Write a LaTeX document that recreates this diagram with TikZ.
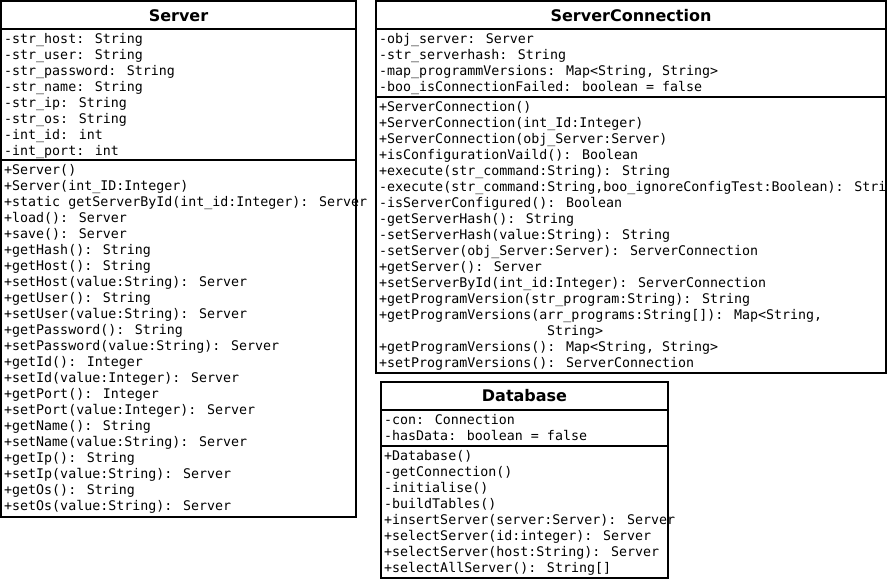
\documentclass[tikz,border=0pt]{standalone}
\usepackage{fontspec}
\newfontfamily\umlmono{DejaVu Sans Mono}
\newfontfamily\umlsans{DejaVu Sans}
\begin{document}
\begin{tikzpicture}[x=1pt,y=-1pt,
  box/.style={draw=black,line width=2pt,fill=white},
  sep/.style={draw=black,line width=2pt},
  member/.style={inner sep=0pt,anchor=base west,font=\umlmono\fontsize{13.3}{16}\selectfont},
  title/.style={inner sep=0pt,anchor=base,font=\umlsans\bfseries\fontsize{16}{19}\selectfont}]
\useasboundingbox (0,0) rectangle (887,579);
\clip (0,0) rectangle (887,579);
% ---------- Server ----------
\draw[box] (1,1) rectangle (356,517);
\draw[sep] (1,29) -- (356,29);
\draw[sep] (1,160) -- (356,160);
\node[title] (servertitle) at (178.5,21) {Server};
\foreach \t [count=\i] in {
  -str\_host: String,
  -str\_user: String,
  -str\_password: String,
  -str\_name: String,
  -str\_ip: String,
  -str\_os: String,
  -int\_id: int,
  -int\_port: int}
  {\node[member] (sa\i) at (4,{43.5+16*(\i-1)}) {\t};}
\foreach \t [count=\i] in {
  +Server(),
  +Server(int\_ID:Integer),
  +static getServerById(int\_id:Integer): Server,
  +load(): Server,
  +save(): Server,
  +getHash(): String,
  +getHost(): String,
  +setHost(value:String): Server,
  +getUser(): String,
  +setUser(value:String): Server,
  +getPassword(): String,
  +setPassword(value:String): Server,
  +getId(): Integer,
  +setId(value:Integer): Server,
  +getPort(): Integer,
  +setPort(value:Integer): Server,
  +getName(): String,
  +setName(value:String): Server,
  +getIp(): String,
  +setIp(value:String): Server,
  +getOs(): String,
  +setOs(value:String): Server}
  {\node[member] (sm\i) at (4,{174.5+16*(\i-1)}) {\t};}
% ---------- ServerConnection ----------
\draw[box] (376,1) rectangle (886,373);
\draw[sep] (376,29) -- (886,29);
\draw[sep] (376,97) -- (886,97);
\node[title] (conntitle) at (631,21) {ServerConnection};
\foreach \t [count=\i] in {
  -obj\_server: Server,
  -str\_serverhash: String,
  {-map\_programmVersions: Map<String, String>},
  -boo\_isConnectionFailed: boolean = false}
  {\node[member] (ca\i) at (379,{43.5+16*(\i-1)}) {\t};}
\foreach \t [count=\i] in {
  +ServerConnection(),
  +ServerConnection(int\_Id:Integer),
  +ServerConnection(obj\_Server:Server),
  +isConfigurationVaild(): Boolean,
  +execute(str\_command:String): String,
  {-execute(str\_command:String,boo\_ignoreConfigTest:Boolean): String},
  -isServerConfigured(): Boolean,
  -getServerHash(): String,
  -setServerHash(value:String): String,
  -setServer(obj\_Server:Server): ServerConnection,
  +getServer(): Server,
  +setServerById(int\_id:Integer): ServerConnection,
  +getProgramVersion(str\_program:String): String,
  {+getProgramVersions(arr\_programs:String[]): Map<String,},
  {\hspace*{168pt}String>},
  {+getProgramVersions(): Map<String, String>},
  +setProgramVersions(): ServerConnection}
  {\node[member] (cm\i) at (379,{111.5+16*(\i-1)}) {\t};}
% ---------- Database ----------
\draw[box] (381,382) rectangle (668,578);
\draw[sep] (381,410) -- (668,410);
\draw[sep] (381,446) -- (668,446);
\node[title] (dbtitle) at (524.5,401.5) {Database};
\foreach \t [count=\i] in {
  -con: Connection,
  -hasData: boolean = false}
  {\node[member] (da\i) at (384,{424.5+16*(\i-1)}) {\t};}
\foreach \t [count=\i] in {
  +Database(),
  -getConnection(),
  -initialise(),
  -buildTables(),
  +insertServer(server:Server): Server,
  +selectServer(id:integer): Server,
  +selectServer(host:String): Server,
  +selectAllServer(): String[]}
  {\node[member] (dm\i) at (384,{460.5+16*(\i-1)}) {\t};}
\end{tikzpicture}
\end{document}
